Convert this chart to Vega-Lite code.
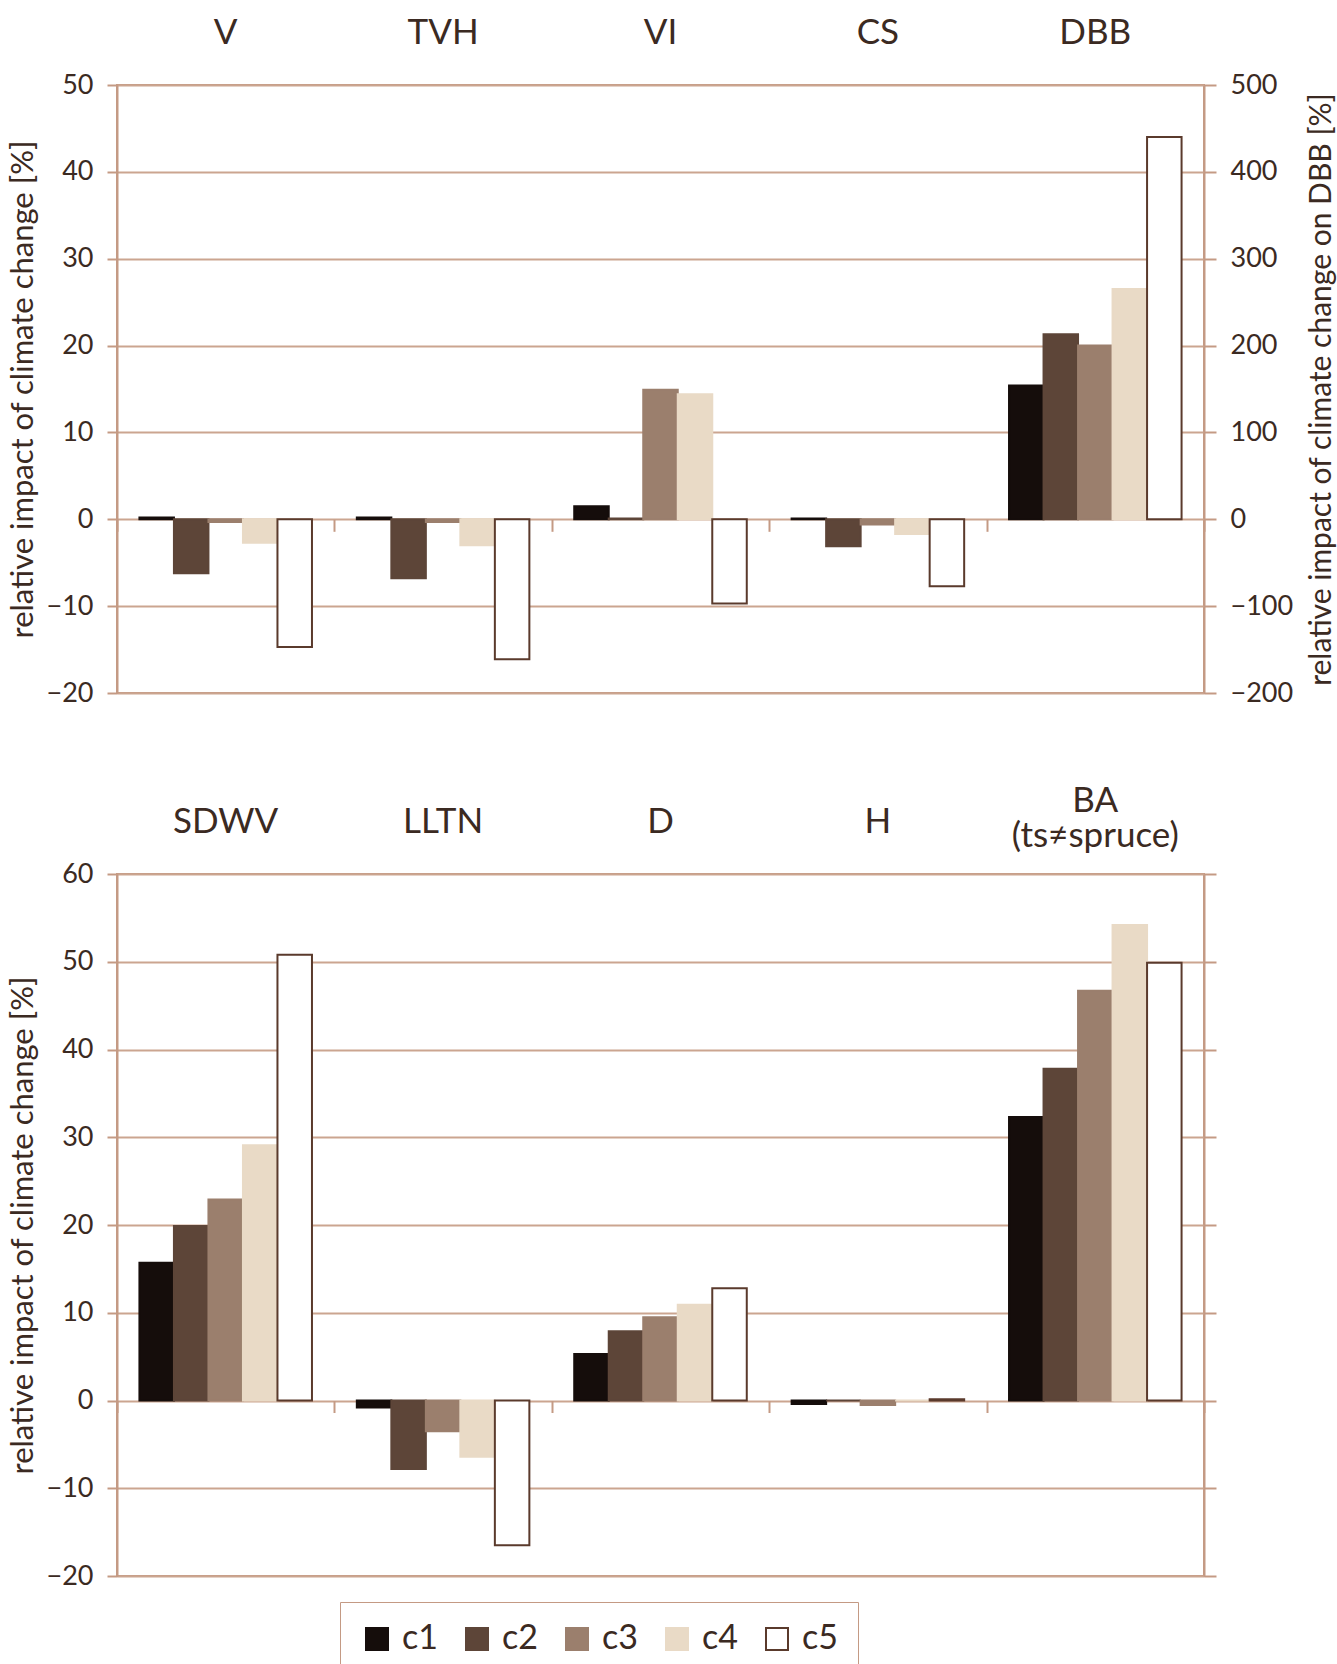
{
  "$schema": "https://vega.github.io/schema/vega-lite/v6.json",
  "padding": {"left": 6, "top": 14, "right": 0, "bottom": 0},
  "background": "white",
  "datasets": {
    "top": [
      {"cat": "V", "series": "c1", "value": 0.2},
      {"cat": "V", "series": "c2", "value": -6.2},
      {"cat": "V", "series": "c3", "value": -0.3},
      {"cat": "V", "series": "c4", "value": -2.7},
      {"cat": "V", "series": "c5", "value": -14.7},
      {"cat": "TVH", "series": "c1", "value": 0.2},
      {"cat": "TVH", "series": "c2", "value": -6.8},
      {"cat": "TVH", "series": "c3", "value": -0.3},
      {"cat": "TVH", "series": "c4", "value": -3.0},
      {"cat": "TVH", "series": "c5", "value": -16.1},
      {"cat": "VI", "series": "c1", "value": 1.5},
      {"cat": "VI", "series": "c2", "value": 0.1},
      {"cat": "VI", "series": "c3", "value": 14.9},
      {"cat": "VI", "series": "c4", "value": 14.4},
      {"cat": "VI", "series": "c5", "value": -9.7},
      {"cat": "CS", "series": "c1", "value": 0.1},
      {"cat": "CS", "series": "c2", "value": -3.1},
      {"cat": "CS", "series": "c3", "value": -0.6},
      {"cat": "CS", "series": "c4", "value": -1.7},
      {"cat": "CS", "series": "c5", "value": -7.7}
    ],
    "dbb": [
      {"cat": "DBB", "series": "c1", "value": 154},
      {"cat": "DBB", "series": "c2", "value": 213},
      {"cat": "DBB", "series": "c3", "value": 200},
      {"cat": "DBB", "series": "c4", "value": 265},
      {"cat": "DBB", "series": "c5", "value": 440}
    ],
    "bottom": [
      {"cat": "SDWV", "series": "c1", "value": 15.7},
      {"cat": "SDWV", "series": "c2", "value": 19.9},
      {"cat": "SDWV", "series": "c3", "value": 22.9},
      {"cat": "SDWV", "series": "c4", "value": 29.1},
      {"cat": "SDWV", "series": "c5", "value": 50.8},
      {"cat": "LLTN", "series": "c1", "value": -0.8},
      {"cat": "LLTN", "series": "c2", "value": -7.8},
      {"cat": "LLTN", "series": "c3", "value": -3.5},
      {"cat": "LLTN", "series": "c4", "value": -6.4},
      {"cat": "LLTN", "series": "c5", "value": -16.5},
      {"cat": "D", "series": "c1", "value": 5.3},
      {"cat": "D", "series": "c2", "value": 7.9},
      {"cat": "D", "series": "c3", "value": 9.5},
      {"cat": "D", "series": "c4", "value": 10.9},
      {"cat": "D", "series": "c5", "value": 12.8},
      {"cat": "H", "series": "c1", "value": -0.4},
      {"cat": "H", "series": "c2", "value": 0},
      {"cat": "H", "series": "c3", "value": -0.5},
      {"cat": "H", "series": "c4", "value": 0},
      {"cat": "H", "series": "c5", "value": 0.15},
      {"cat": "BA", "series": "c1", "value": 32.3},
      {"cat": "BA", "series": "c2", "value": 37.8},
      {"cat": "BA", "series": "c3", "value": 46.7},
      {"cat": "BA", "series": "c4", "value": 54.2},
      {"cat": "BA", "series": "c5", "value": 49.9}
    ]
  },
  "spacing": 75,
  "resolve": {"scale": {"x": "independent", "y": "independent"}},
  "vconcat": [
    {
      "width": 1087,
      "height": 608,
      "resolve": {"scale": {"y": "independent"}, "axis": {"y": "independent", "x": "independent"}},
      "layer": [
        {
          "data": {"name": "top"},
          "mark": {"type": "bar", "strokeWidth": 2},
          "encoding": {
            "x": {"field": "cat", "type": "nominal", "sort": ["V", "TVH", "VI", "CS", "DBB"],
                  "scale": {"domain": ["V", "TVH", "VI", "CS", "DBB"], "paddingInner": 0, "paddingOuter": 0},
                  "axis": {"orient": "top", "title": null, "domain": false, "ticks": false, "labelAngle": 0, "labelFontSize": 35, "labelPadding": 35}},
            "xOffset": {"field": "series", "type": "nominal", "scale": {"domain": ["c1", "c2", "c3", "c4", "c5"], "paddingInner": 0, "paddingOuter": 0.65}},
            "y": {"field": "value", "type": "quantitative",
                  "scale": {"domain": [-20, 50], "nice": false, "zero": false},
                  "axis": {"orient": "left", "title": "relative impact of climate change [%]", "values": [-20, -10, 0, 10, 20, 30, 40, 50], "grid": true, "tickSize": 10, "labelPadding": 14, "labelFontSize": 27, "titleFontSize": 31, "titlePadding": 7}},
            "fill": {"field": "series", "type": "nominal", "title": null,
                     "scale": {"domain": ["c1", "c2", "c3", "c4", "c5"], "range": ["#150d0b", "#5d4538", "#9b7f6d", "#e9dac6", "#ffffff"]}},
            "stroke": {"field": "series", "type": "nominal", "title": null,
                       "scale": {"domain": ["c1", "c2", "c3", "c4", "c5"], "range": ["#150d0b", "#5d4538", "#9b7f6d", "#e9dac6", "#5a3a2c"]}}
          }
        },
        {
          "data": {"name": "dbb"},
          "mark": {"type": "bar", "strokeWidth": 2},
          "encoding": {
            "x": {"field": "cat", "type": "nominal",
                  "axis": {"orient": "bottom", "title": null, "labels": false, "domain": false, "ticks": true, "tickBand": "extent", "tickSize": 12, "offset": -173.7}},
            "xOffset": {"field": "series", "type": "nominal"},
            "y": {"field": "value", "type": "quantitative",
                  "scale": {"domain": [-200, 500], "nice": false, "zero": false},
                  "axis": {"orient": "right", "title": "relative impact of climate change on DBB [%]", "titleAngle": 270, "values": [-200, -100, 0, 100, 200, 300, 400, 500], "grid": false, "tickSize": 12, "labelPadding": 14, "labelFontSize": 27, "titleFontSize": 30, "titlePadding": 44}},
            "fill": {"field": "series", "type": "nominal", "title": null},
            "stroke": {"field": "series", "type": "nominal", "title": null}
          }
        }
      ]
    },
    {
      "width": 1087,
      "height": 702,
      "resolve": {"axis": {"y": "independent", "x": "independent"}},
      "layer": [
        {
          "data": {"name": "bottom"},
          "mark": {"type": "bar", "strokeWidth": 2},
          "encoding": {
            "x": {"field": "cat", "type": "nominal", "sort": ["SDWV", "LLTN", "D", "H", "BA"],
                  "scale": {"domain": ["SDWV", "LLTN", "D", "H", "BA"], "paddingInner": 0, "paddingOuter": 0},
                  "axis": {"orient": "top", "title": null, "domain": false, "ticks": false, "labelAngle": 0, "labelFontSize": 35, "labelLimit": 0,
                           "labelPadding": {"condition": {"test": "datum.value == 'BA'", "value": 56}, "value": 35},
                           "labelLineHeight": 35,
                           "labelExpr": "datum.value == 'BA' ? ['BA', '(ts≠spruce)'] : datum.value"}},
            "xOffset": {"field": "series", "type": "nominal", "scale": {"domain": ["c1", "c2", "c3", "c4", "c5"], "paddingInner": 0, "paddingOuter": 0.65}},
            "y": {"field": "value", "type": "quantitative",
                  "scale": {"domain": [-20, 60], "nice": false, "zero": false},
                  "axis": {"orient": "left", "title": "relative impact of climate change [%]", "values": [-20, -10, 0, 10, 20, 30, 40, 50, 60], "grid": true, "tickSize": 10, "labelPadding": 14, "labelFontSize": 27, "titleFontSize": 31, "titlePadding": 7}},
            "fill": {"field": "series", "type": "nominal", "title": null},
            "stroke": {"field": "series", "type": "nominal", "title": null}
          }
        },
        {
          "data": {"name": "bottom"},
          "mark": {"type": "bar", "opacity": 0},
          "encoding": {
            "x": {"field": "cat", "type": "nominal",
                  "axis": {"orient": "bottom", "title": null, "labels": false, "domain": false, "ticks": true, "tickBand": "extent", "tickSize": 12, "offset": -175.5}},
            "xOffset": {"field": "series", "type": "nominal"},
            "y": {"field": "value", "type": "quantitative",
                  "axis": {"orient": "right", "title": null, "labels": false, "values": [-20, -10, 0, 10, 20, 30, 40, 50, 60], "grid": false, "tickSize": 12}}
          }
        }
      ]
    }
  ],
  "config": {
    "font": "Lato",
    "view": {"stroke": "#c49a84", "strokeWidth": 2},
    "axis": {
      "labelColor": "#3b2a22", "titleColor": "#3b2a22", "labelFont": "Lato", "titleFont": "Lato",
      "titleFontWeight": "normal", "gridColor": "#cba590", "gridWidth": 2, "gridOpacity": 1,
      "domainColor": "#c49a84", "domainWidth": 2, "tickColor": "#c49a84", "tickWidth": 2
    },
    "legend": {
      "orient": "none", "legendX": 223, "legendY": 1517, "direction": "horizontal",
      "symbolType": "square", "symbolSize": 484, "symbolStrokeWidth": 2, "symbolOpacity": 1,
      "labelFontSize": 34, "labelColor": "#3b2a22", "labelFont": "Lato", "labelOffset": 8,
      "columnPadding": 22, "padding": 20, "strokeColor": "#c49a84", "fillColor": "white", "cornerRadius": 0
    }
  }
}
